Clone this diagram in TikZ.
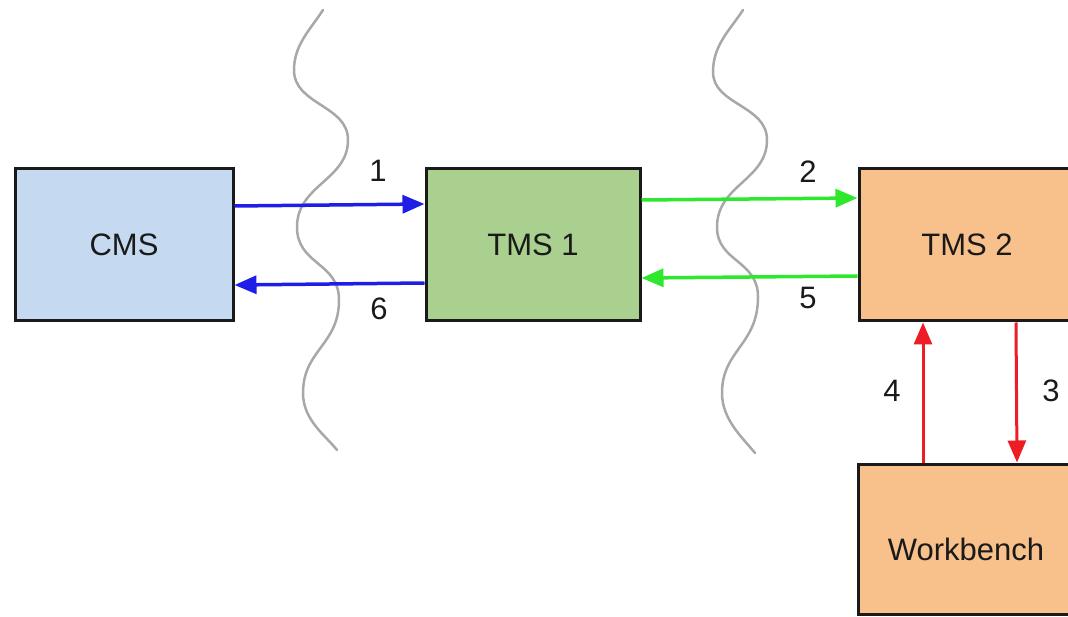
\documentclass[tikz,border=0pt]{standalone}
\usepackage{fontspec}
\setmainfont{Liberation Sans}
\usetikzlibrary{arrows.meta}
\definecolor{cmsfill}{HTML}{C5D9F0}
\definecolor{tmsonefill}{HTML}{A9D08E}
\definecolor{tmstwofill}{HTML}{F8C08A}
\definecolor{edgecol}{HTML}{1A1A1A}
\definecolor{bluearr}{HTML}{1E1EE6}
\definecolor{greenarr}{HTML}{2EE82E}
\definecolor{redarr}{HTML}{EE1C25}
\definecolor{wavecol}{HTML}{A8A8A8}
\tikzset{
  boxnode/.style={draw=edgecol, line width=3pt, rectangle, inner sep=0pt,
    font=\fontsize{31}{37}\selectfont, text=edgecol},
  numlabel/.style={font=\fontsize{31}{37}\selectfont, text=edgecol, inner sep=0pt},
  conn/.style={line width=3.5pt, -{Triangle[length=22pt,width=18pt]}},
  wave/.style={draw=wavecol, line width=2.5pt, line cap=round}
}
\begin{document}
\begin{tikzpicture}[x=1pt,y=-1pt]
\useasboundingbox (0,0) rectangle (1068,617);
% wavy separators
\draw[wave] (323,10) .. controls (310,30) and (294,45) .. (294,70)
  .. controls (294,105) and (348,105) .. (348,140)
  .. controls (348,180) and (297,185) .. (297,227)
  .. controls (297,265) and (339,262) .. (339,300)
  .. controls (339,345) and (303,350) .. (303,393)
  .. controls (303,420) and (325,435) .. (337,450);
\draw[wave] (743,10) .. controls (730,30) and (713,45) .. (713,72)
  .. controls (713,105) and (767,105) .. (767,140)
  .. controls (767,180) and (717,185) .. (717,227)
  .. controls (717,262) and (758,260) .. (758,297)
  .. controls (758,345) and (722,350) .. (722,393)
  .. controls (722,420) and (743,438) .. (755,453);
% boxes
\node[boxnode, fill=cmsfill, minimum width=218pt, minimum height=152pt] (cms) at (124,245) {CMS};
\node[boxnode, fill=tmsonefill, minimum width=214pt, minimum height=152pt] (tms1) at (533,245) {TMS 1};
\node[boxnode, fill=tmstwofill, minimum width=260pt, minimum height=152pt] (tms2) at (989,245) {};
\node[numlabel] (tms2text) at (967,245) {TMS 2};
\node[boxnode, fill=tmstwofill, minimum width=260pt, minimum height=150pt] (wb) at (988,539) {};
\node[numlabel] (wbtext) at (966,549) {Workbench};
% connectors
\draw[conn, draw=bluearr, fill=bluearr] ([yshift=39pt]cms.east) -- ([yshift=41pt]tms1.west);
\draw[conn, draw=bluearr, fill=bluearr] ([yshift=-38pt]tms1.west) -- ([yshift=-40pt]cms.east);
\draw[conn, draw=greenarr, fill=greenarr] ([yshift=45pt]tms1.east) -- ([yshift=47pt]tms2.west);
\draw[conn, draw=greenarr, fill=greenarr] ([yshift=-31pt]tms2.west) -- ([yshift=-33pt]tms1.east);
\draw[conn, line width=3pt, draw=redarr, fill=redarr] ([xshift=-65pt]wb.north) -- ([xshift=-66pt]tms2.south);
\draw[conn, line width=3pt, draw=redarr, fill=redarr] ([xshift=27pt]tms2.south) -- ([xshift=29pt]wb.north);
% labels
\node[numlabel] (l1) at (378,171) {1};
\node[numlabel] (l6) at (379,309) {6};
\node[numlabel] (l2) at (808,172) {2};
\node[numlabel] (l5) at (808,298) {5};
\node[numlabel] (l4) at (892,391) {4};
\node[numlabel] (l3) at (1051,391) {3};
\end{tikzpicture}
\end{document}
